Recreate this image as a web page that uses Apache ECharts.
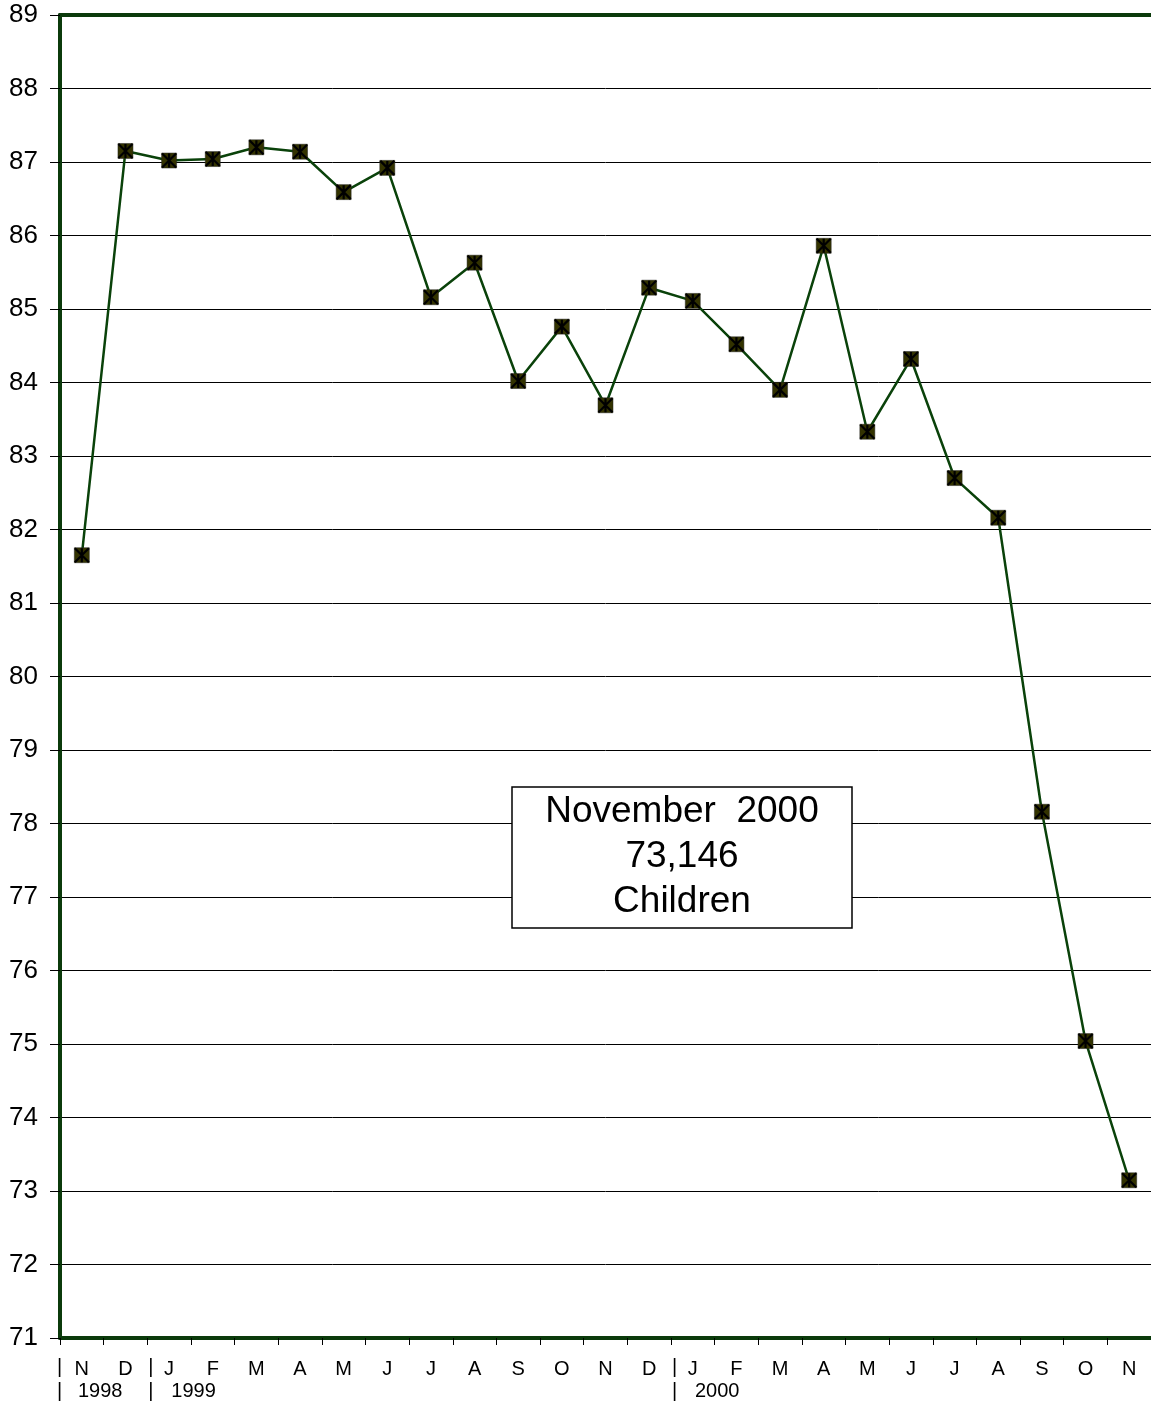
<!DOCTYPE html>
<html><head><meta charset="utf-8">
<script src="https://cdn.jsdelivr.net/npm/echarts@6/dist/echarts.min.js"></script>
<style>html,body{margin:0;padding:0;background:#fff}#c{width:1151px;height:1403px}</style>
</head><body><div id="c"></div>
<script>
var months = ['N','D','J','F','M','A','M','J','J','A','S','O','N','D','J','F','M','A','M','J','J','A','S','O','N'];
var values = [81.65,87.15,87.02,87.04,87.20,87.14,86.59,86.92,85.16,85.63,84.02,84.76,83.69,85.29,85.11,84.52,83.90,85.86,83.33,84.32,82.70,82.16,78.16,75.04,73.146];
var yearMarks = [{idx:0, label:'1998'},{idx:2, label:'1999'},{idx:14, label:'2000'}];
var yTicks = {min:71, max:89, interval:1};
var boxLines = ['November  2000','73,146','Children'];

var chart = echarts.init(document.getElementById('c'));
var FONT = 'Liberation Sans, Arial, sans-serif';
var AXIS = '#0b3a0b';
chart.setOption({
  animation:false,
  grid:{left:60, top:15, right:0, bottom:65, containLabel:false},
  xAxis:[{
    type:'category', data:months, boundaryGap:true, position:'bottom',
    axisLine:{show:true, lineStyle:{color:AXIS, width:4}},
    axisTick:{show:true, alignWithLabel:false, length:7, inside:false, lineStyle:{color:'#000', width:1}},
    axisLabel:{interval:0, color:'#000', fontFamily:FONT, fontSize:20, margin:21},
    splitLine:{show:false}
  },{
    type:'category', data:months, position:'top',
    axisLine:{show:true, lineStyle:{color:AXIS, width:4}},
    axisTick:{show:false}, axisLabel:{show:false}
  }],
  yAxis:{
    type:'value', min:yTicks.min, max:yTicks.max, interval:yTicks.interval,
    axisLine:{show:true, lineStyle:{color:AXIS, width:4}},
    axisTick:{show:true, length:10, lineStyle:{color:'#000', width:1}},
    axisLabel:{color:'#000', fontFamily:FONT, fontSize:26, margin:22},
    splitLine:{show:true, lineStyle:{color:'#000', width:1}}
  },
  series:[{
    type:'line', data:values, xAxisIndex:0,
    lineStyle:{color:'#0a420a', width:2.5},
    symbol:'rect', symbolSize:15, showAllSymbol:true,
    itemStyle:{color:'#333300', borderColor:'#222', borderWidth:0.5},
    z:3
  },{
    type:'line', data:values, xAxisIndex:0,
    lineStyle:{width:0, opacity:0},
    symbol:'path://M0,0L10,10M10,0L0,10M5,0L5,10', symbolSize:14, showAllSymbol:true,
    itemStyle:{color:'rgba(0,0,0,0)', borderColor:'#000', borderWidth:2.2},
    z:4, silent:true
  }]
});

function addGraphics(){
  var p0 = chart.convertToPixel({xAxisIndex:0}, 0);
  var p1 = chart.convertToPixel({xAxisIndex:0}, 1);
  var w = p1 - p0;
  var els = [];
  yearMarks.forEach(function(m, k){
    var bx = chart.convertToPixel({xAxisIndex:0}, m.idx) - w/2;
    var off = (k===0) ? -3 : 1;
    els.push({type:'text', left:bx+off, top:1357, style:{text:'|', fontSize:20, fontFamily:FONT, fill:'#000'}});
    els.push({type:'text', left:bx+off, top:1381, style:{text:'|', fontSize:20, fontFamily:FONT, fill:'#000'}});
    var tx = (k===0) ? bx + 18 : bx + 24;
    els.push({type:'text', left:tx, top:1381, style:{text:m.label, fontSize:20, fontFamily:FONT, fill:'#000'}});
  });
  els.push({type:'rect', shape:{x:512, y:787, width:340, height:141}, style:{fill:'#fff', stroke:'#000', lineWidth:1.5}, z:10});
  boxLines.forEach(function(t, i){
    els.push({type:'text', x:682, y:812 + i*45, style:{text:t, fontSize:37, fontFamily:FONT, fill:'#000', align:'center', verticalAlign:'middle'}, z:11});
  });
  chart.setOption({graphic:els});
}
addGraphics();
</script>
</body></html>
